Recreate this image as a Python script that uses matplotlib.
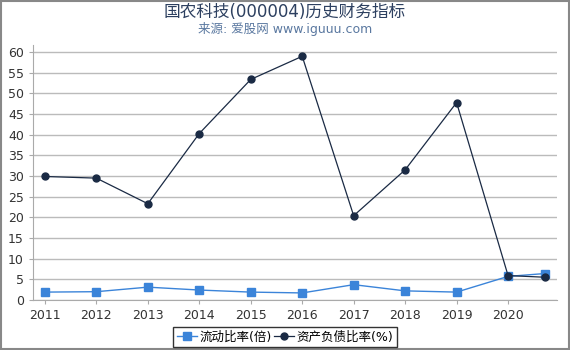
import matplotlib.pyplot as plt
from matplotlib.patches import Rectangle

plt.rcParams['font.family'] = ['DejaVu Sans', 'Noto Sans CJK SC']

# 数据
years = [2011, 2012, 2013, 2014, 2015, 2016, 2017, 2018, 2019, 2020, 2020.72]
current_ratio = [1.9, 2.0, 3.1, 2.4, 1.9, 1.7, 3.7, 2.2, 1.9, 5.7, 6.4]
debt_ratio = [29.9, 29.5, 23.3, 40.3, 53.4, 59.0, 20.4, 31.5, 47.8, 5.9, 5.5]
xticks = [2011, 2012, 2013, 2014, 2015, 2016, 2017, 2018, 2019, 2020]

fig = plt.figure(figsize=(5.7, 3.5), dpi=100)
ax = fig.add_axes([0.058, 0.143, 0.92, 0.728])

ax.plot(years, current_ratio, '-s', color='#3b84d9', markersize=6, linewidth=1,
        label='流动比率(倍)', zorder=3)
ax.plot(years, debt_ratio, '-o', color='#1a2a44', markersize=5, linewidth=0.9,
        label='资产负债比率(%)', zorder=3)

ax.set_xlim(2010.77, 2020.96)
ax.set_ylim(0, 61.7)
ax.set_yticks(range(0, 61, 5))
ax.set_xticks(xticks)
ax.grid(axis='y', color='#bbbbbb', linewidth=1)
ax.set_axisbelow(True)
for s in ['top', 'right']:
    ax.spines[s].set_visible(False)
for s in ['left', 'bottom']:
    ax.spines[s].set_color('#aaaaaa')
ax.tick_params(colors='#aaaaaa', labelsize=9, length=3, labelcolor='#333333')

fig.text(0.5, 0.965, '国农科技(000004)历史财务指标', ha='center', va='center',
         fontsize=12, color='#2d4060')
fig.text(0.5, 0.918, '来源: 爱股网 www.iguuu.com', ha='center', va='center',
         fontsize=9, color='#5a78a0')

leg = fig.legend(loc='center', bbox_to_anchor=(0.5, 0.037), ncol=2, fontsize=9,
                 frameon=True, fancybox=False, borderpad=0.3, handlelength=1.6,
                 handletextpad=0.2, columnspacing=0.2)
leg.get_frame().set_edgecolor('black')
leg.get_frame().set_linewidth(1)

fig.patches.append(Rectangle((0.001, 0.002), 0.997, 0.996, transform=fig.transFigure,
                             fill=False, edgecolor='#888888', linewidth=1.5))

fig.savefig('out.png', dpi=100)
